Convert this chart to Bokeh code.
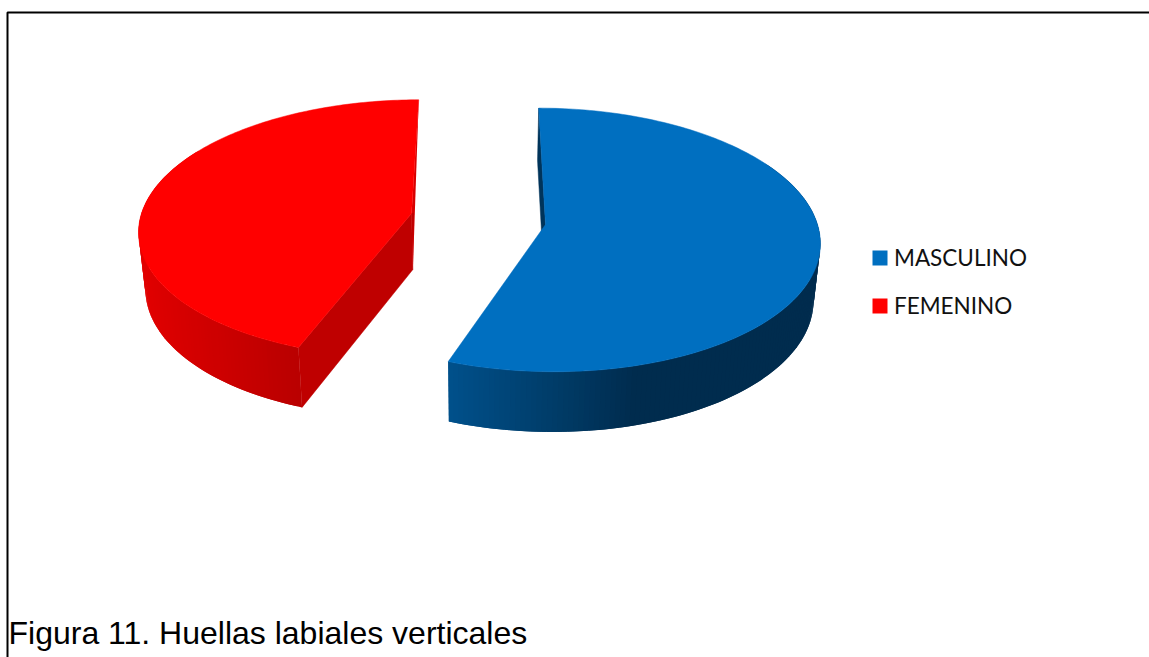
import numpy as np
from bokeh.plotting import figure
from bokeh.models import Range1d
from bokeh.core.properties import value
from bokeh.embed import file_html
from bokeh.resources import INLINE

# data
categories = ["MASCULINO", "FEMENINO"]
shares = [55.6, 44.4]
caption = "Figura 11. Huellas labiales verticales"

# colours
top_colors = ["#006FC0", "#FF0000"]
cut_colors = ["#00345A", "#BF0000"]
wall_stops_x = [[449, 550, 640, 820], [138, 200, 298, 420]]
wall_stops_rgb = [
    [(0, 81, 140), (0, 62, 107), (0, 44, 78), (0, 45, 79)],
    [(226, 0, 0), (210, 0, 0), (186, 0, 0), (186, 0, 0)],
]

# pseudo 3D camera (page pixels)
XC, P, H, S = 480.0, 0.117, 56.0, 0.98
A = [272.0, 270.0]
B = [130.0, 127.0]
apex = [(545.0, 224.0), (411.0, 213.0)]


def top(i, th):
    u, v = np.sin(th), np.cos(th)
    d = 1 + P * v
    return XC + (apex[i][0] - XC + A[i] * u) / d, apex[i][1] - B[i] * v / d


def wall_drop(th):
    return H / (1 + 0.6 * P * np.cos(th))


def bottom(i, th):
    x, y = top(i, th)
    return XC + S * (x - XC), y + wall_drop(th)


p = figure(width=1149, height=657, x_range=Range1d(0, 1149), y_range=Range1d(657, 0),
           output_backend="svg", toolbar_location=None, min_border=0,
           outline_line_color=None, background_fill_color="white")
p.axis.visible = False
p.grid.visible = False

total = sum(shares)
edges = np.concatenate([[0], np.cumsum(shares)]) / total * 2 * np.pi

for i in [1, 0]:
    t0, t1 = edges[i], edges[i + 1]
    n = int(np.degrees(t1 - t0))
    ths = np.linspace(t0, t1, n + 1)
    step = ths[1] - ths[0]
    ax, ay = apex[i]
    abx, aby = XC + S * (ax - XC), ay + H

    # outer wall as shaded strips, each overlapping the next one
    xs, ys, cols = [], [], []
    for a in ths[:-1]:
        if np.cos(a) > 0.5:
            continue
        b = min(a + 2 * step, t1)
        xa, ya = top(i, a)
        xb, yb = top(i, b)
        xc2, yc2 = bottom(i, b)
        xd, yd = bottom(i, a)
        rgb = [int(np.interp(xa, wall_stops_x[i], [c[k] for c in wall_stops_rgb[i]])) for k in range(3)]
        xs.append([xa, xb, xc2, xd])
        ys.append([ya, yb, yc2, yd])
        cols.append("#%02x%02x%02x" % tuple(rgb))
    p.patches(xs, ys, fill_color=cols, line_color=None)

    rx, ry = top(i, t0)
    bx, by = bottom(i, t0)
    p.patch([rx, bx, abx, ax], [ry, by, aby, ay], fill_color=cut_colors[i], line_color=cut_colors[i], line_width=0.5)
    if i == 1:
        # thin sliver at the top radius
        ex, ey = top(i, t1)
        p.patch([ex, abx, ax], [ey, aby, ay], fill_color="#D80000", line_color=None)
        p.patch([ax, abx, ax + 2.5], [ay, aby, ay - 1], fill_color=cut_colors[i], line_color=None)

    # top face
    px, py = zip(*[top(i, t) for t in ths])
    p.patch([ax] + list(px), [ay] + list(py), fill_color=top_colors[i], line_color=top_colors[i], line_width=0.5)

# legend
legend_y = [257.5, 305.5]
p.quad(left=[872, 872], right=[887, 887],
       top=[y - 7.5 for y in legend_y], bottom=[y + 7.5 for y in legend_y],
       fill_color=top_colors, line_color=None)
p.text(x=[893.5, 893.5], y=[y - 1 for y in legend_y], text=categories, text_font=value("Lato"),
       text_font_size="22.5px", text_color="#111111", text_baseline="middle")

# frame and caption
p.line([7, 7, 1149], [657, 12, 12], line_color="black", line_width=2)
p.text(x=[8], y=[632], text=[caption], text_font=value("Liberation Sans"),
       text_font_size="32px", text_color="black", text_baseline="middle")

open("out.html", "w").write(file_html(p, INLINE))
